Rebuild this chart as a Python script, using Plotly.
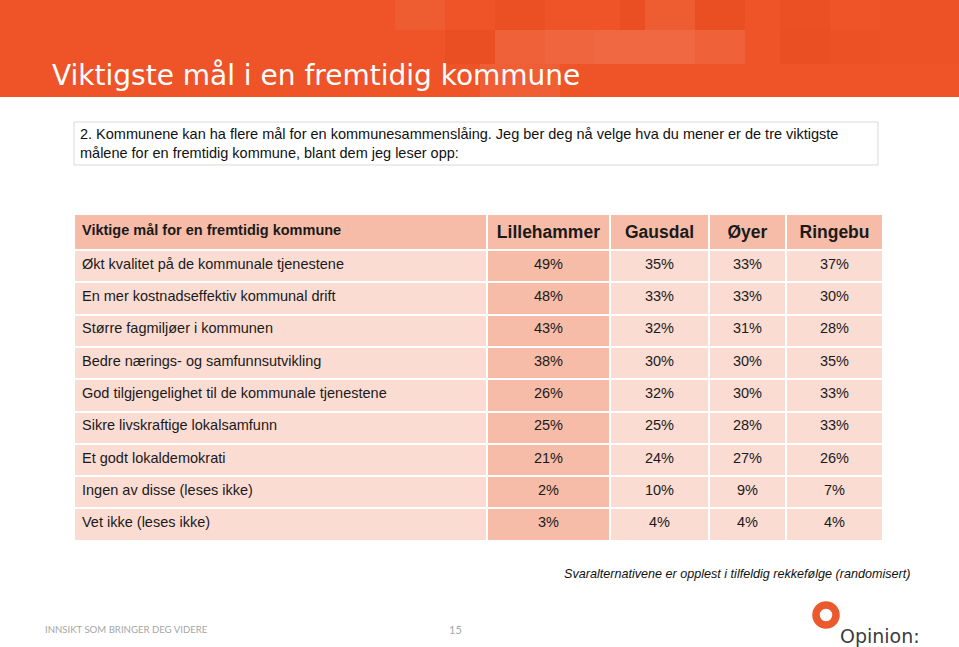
import plotly.graph_objects as go

W, H = 959, 647

# ---- data ----
title = "Viktigste mål i en fremtidig kommune"
question = ("2. Kommunene kan ha flere mål for en kommunesammenslåing. Jeg ber deg nå velge hva du mener er de tre viktigste<br>"
            "målene for en fremtidig kommune, blant dem jeg leser opp:")
header_label = "Viktige mål for en fremtidig kommune"
municipalities = ["Lillehammer", "Gausdal", "Øyer", "Ringebu"]
goals = [
    "Økt kvalitet på de kommunale tjenestene",
    "En mer kostnadseffektiv kommunal drift",
    "Større fagmiljøer i kommunen",
    "Bedre nærings- og samfunnsutvikling",
    "God tilgjengelighet til de kommunale tjenestene",
    "Sikre livskraftige lokalsamfunn",
    "Et godt lokaldemokrati",
    "Ingen av disse (leses ikke)",
    "Vet ikke (leses ikke)",
]
lillehammer = [49, 48, 43, 38, 26, 25, 21, 2, 3]
gausdal = [35, 33, 32, 30, 32, 25, 24, 10, 4]
oyer = [33, 33, 31, 30, 30, 28, 27, 9, 4]
ringebu = [37, 30, 28, 35, 33, 33, 26, 7, 4]
footnote = "Svaralternativene er opplest i tilfeldig rekkefølge (randomisert)"
footer = "INNSIKT SOM BRINGER DEG VIDERE"
page_no = "15"

# ---- styles ----
ORANGE = "#EE5428"
DARK_CELL = "#F7BCA8"
LIGHT_CELL = "#FBDCD3"
TXT = "#1a1a1a"


def px(x):
    return x / W


def py(y):
    return 1 - y / H


fig = go.Figure()

series = [lillehammer, gausdal, oyer, ringebu]
n = len(goals)
fig.add_trace(go.Table(
    domain=dict(x=[px(74), px(883)], y=[py(560), py(214)]),
    columnwidth=[413, 123, 99, 77, 97],
    header=dict(
        values=["<b>" + header_label + "</b>"] + ["<b>" + m + "</b>" for m in municipalities],
        fill_color=DARK_CELL,
        line=dict(color="white", width=2),
        align=["left", "center", "center", "center", "center"],
        font=dict(family="Liberation Sans, Arial, sans-serif", size=[14.5, 17.5, 17.5, 17.5, 17.5], color=TXT),
        height=32.5,
    ),
    cells=dict(
        values=[goals] + [[f"{v}%" for v in s] for s in series],
        fill_color=[[LIGHT_CELL] * n, [DARK_CELL] * n, [LIGHT_CELL] * n, [LIGHT_CELL] * n, [LIGHT_CELL] * n],
        line=dict(color="white", width=2),
        align=["left", "center", "center", "center", "center"],
        font=dict(family="Liberation Sans, Arial, sans-serif", size=14.5, color=TXT),
        height=32.3,
    ),
))

shapes = []
# banner
shapes.append(dict(type="rect", xref="paper", yref="paper", x0=0, x1=1, y0=py(97), y1=1,
                   fillcolor=ORANGE, line=dict(width=0), layer="below"))
# mosaic texture in banner
tiles = [
    (395, 0, 445, 30, "rgba(255,255,255,0.05)"),
    (445, 30, 495, 64, "rgba(200,40,0,0.10)"),
    (495, 0, 545, 30, "rgba(200,40,0,0.08)"),
    (495, 30, 545, 64, "rgba(255,255,255,0.08)"),
    (545, 30, 595, 64, "rgba(255,255,255,0.10)"),
    (595, 30, 645, 64, "rgba(255,255,255,0.12)"),
    (645, 0, 695, 30, "rgba(255,255,255,0.05)"),
    (645, 30, 695, 64, "rgba(255,255,255,0.12)"),
    (695, 30, 745, 64, "rgba(255,255,255,0.08)"),
    (620, 0, 645, 30, "rgba(200,40,0,0.10)"),
    (695, 0, 745, 30, "rgba(200,40,0,0.10)"),
    (780, 0, 830, 30, "rgba(200,40,0,0.08)"),
    (780, 30, 830, 64, "rgba(200,40,0,0.10)"),
    (830, 30, 880, 64, "rgba(200,40,0,0.06)"),
    (880, 0, 959, 64, "rgba(200,40,0,0.04)"),
    (480, 64, 560, 97, "rgba(255,255,255,0.06)"),
]
for x0, y0, x1, y1, c in tiles:
    shapes.append(dict(type="rect", xref="paper", yref="paper", x0=px(x0), x1=px(x1), y0=py(y1), y1=py(y0),
                       fillcolor=c, line=dict(width=0), layer="below"))
# question box
shapes.append(dict(type="rect", xref="paper", yref="paper", x0=px(74), x1=px(878), y0=py(165), y1=py(122),
                   fillcolor="white", line=dict(color="#D9D9D9", width=1), layer="below"))
# logo ring
shapes.append(dict(type="circle", xref="paper", yref="paper", x0=px(816), x1=px(836), y0=py(625), y1=py(605),
                   fillcolor="rgba(0,0,0,0)", line=dict(color="#EA5A2C", width=7.5)))

ann = []
ann.append(dict(text=title, x=px(50), y=py(76), xref="paper", yref="paper", xanchor="left", yanchor="middle",
                showarrow=False, font=dict(family="DejaVu Sans, sans-serif", size=28, color="white")))
ann.append(dict(text=question, x=px(78), y=py(143.5), xref="paper", yref="paper", xanchor="left", yanchor="middle",
                align="left", showarrow=False,
                font=dict(family="Liberation Sans, Arial, sans-serif", size=14.5, color="#111111")))
ann.append(dict(text="<i>" + footnote + "</i>", x=px(912), y=py(574), xref="paper", yref="paper",
                xanchor="right", yanchor="middle", showarrow=False,
                font=dict(family="Liberation Sans, Arial, sans-serif", size=12.6, color="#111111")))
ann.append(dict(text=footer, x=px(43), y=py(629), xref="paper", yref="paper", xanchor="left", yanchor="middle",
                showarrow=False, font=dict(family="Lato, sans-serif", size=9.6, color="#A6A6A6")))
ann.append(dict(text=page_no, x=px(455), y=py(629), xref="paper", yref="paper", xanchor="center", yanchor="middle",
                showarrow=False, font=dict(family="Lato, sans-serif", size=11, color="#A6A6A6")))
ann.append(dict(text="Opinion:", x=px(838), y=py(636), xref="paper", yref="paper", xanchor="left", yanchor="middle",
                showarrow=False, font=dict(family="DejaVu Sans, sans-serif", size=19, color="#3C3C3C")))

fig.update_layout(
    width=W, height=H,
    margin=dict(l=0, r=0, t=0, b=0),
    paper_bgcolor="white", plot_bgcolor="white",
    shapes=shapes, annotations=ann,
    showlegend=False,
)
fig.write_html("out.html", config={"displayModeBar": False},
               post_script="document.body.style.margin='0';")
